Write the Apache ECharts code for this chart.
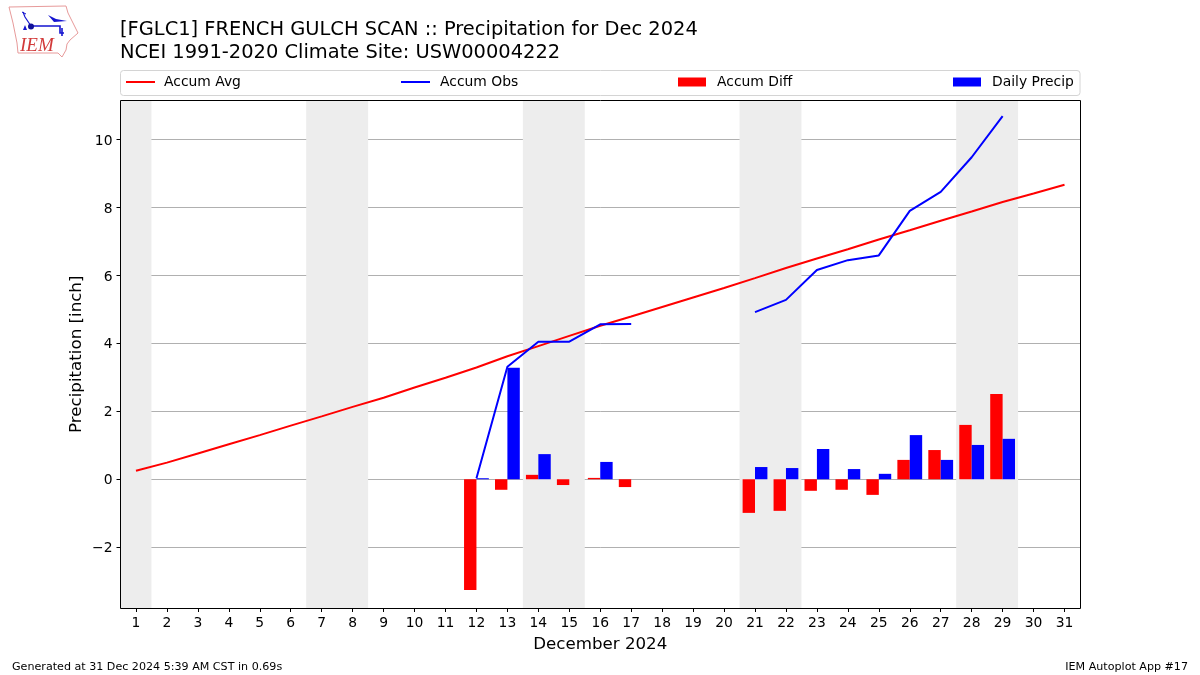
<!DOCTYPE html>
<html>
<head>
<meta charset="utf-8">
<style>html,body{margin:0;padding:0;background:#fff}#c{width:1200px;height:675px}</style>
<script src="https://cdn.jsdelivr.net/npm/echarts@6/dist/echarts.min.js"></script>
</head>
<body>
<div id="c"></div>
<script>
const days = ['1','2','3','4','5','6','7','8','9','10','11','12','13','14','15','16','17','18','19','20','21','22','23','24','25','26','27','28','29','30','31'];
const accumAvg = [0.25,0.49,0.76,1.03,1.30,1.58,1.85,2.13,2.40,2.70,2.99,3.29,3.62,3.92,4.22,4.52,4.79,5.07,5.35,5.63,5.92,6.22,6.50,6.77,7.06,7.33,7.61,7.88,8.16,8.41,8.67];
const accumObs = [null,null,null,null,null,null,null,null,null,null,null,0.03,3.31,4.05,4.05,4.56,4.57,null,null,null,4.92,5.28,6.16,6.45,6.59,7.90,8.46,9.48,10.69,null,null];
const accumDiff = [null,null,null,null,null,null,null,null,null,null,null,-3.26,-0.31,0.13,-0.17,0.04,-0.23,null,null,null,-0.99,-0.93,-0.34,-0.31,-0.46,0.57,0.86,1.60,2.51,null,null];
const dailyPrecip = [null,null,null,null,null,null,null,null,null,null,null,0.03,3.28,0.74,0,0.51,0,null,null,null,0.36,0.33,0.89,0.30,0.16,1.30,0.57,1.01,1.19,null,null];
const weekendBands = [[0.5,1.5],[6.5,8.5],[13.5,15.5],[20.5,22.5],[27.5,29.5]];
const yTicks = [-2,0,2,4,6,8,10];

const FONT = 'DejaVu Sans';
const BLUE = '#1515d0';
const chart = echarts.init(document.getElementById('c'), null, {renderer:'canvas'});
const legendItem = (left, width, height, gap, name) => ({
  top:75, left, icon:'rect', itemWidth:width, itemHeight:height, selectedMode:false, padding:0, itemGap:0, data:[name],
  textStyle:{fontFamily:FONT,fontSize:13.89,color:'#000',padding:[0,0,0,gap]}
});
const fmtY = v => '{t|' + String(v).replace('-', '\u2212') + '}';

chart.setOption({
  animation:false,
  backgroundColor:'#fff',
  title:[
    {text:'[FGLC1] FRENCH GULCH SCAN :: Precipitation for Dec 2024\nNCEI 1991-2020 Climate Site: USW00004222',left:120,top:18,padding:0,
     textStyle:{fontFamily:FONT,fontSize:19.44,fontWeight:'normal',color:'#000',lineHeight:23}},
    {text:'Generated at 31 Dec 2024 5:39 AM CST in 0.69s',left:12,top:662,padding:0,textStyle:{fontFamily:FONT,fontSize:11.11,fontWeight:'normal',color:'#000'}},
    {text:'IEM Autoplot App #17',right:12,top:662,padding:0,textStyle:{fontFamily:FONT,fontSize:11.11,fontWeight:'normal',color:'#000'}}
  ],
  legend:[
    legendItem(126,29,2,4,'Accum Avg'),
    legendItem(401,29,2,5,'Accum Obs'),
    legendItem(678,28,9,6,'Accum Diff'),
    legendItem(953,28,9,6,'Daily Precip')
  ],
  grid:{left:120.5,top:100.5,width:959.5,height:507.5,show:false},
  xAxis:[
    {type:'category',data:days,boundaryGap:true,name:'December 2024',nameLocation:'middle',nameGap:28,
     nameTextStyle:{fontFamily:FONT,fontSize:16.67,color:'#000'},
     axisLine:{show:false,onZero:false},
     axisTick:{show:true,alignWithLabel:true,length:4,lineStyle:{color:'#000',width:1}},
     axisLabel:{fontFamily:FONT,fontSize:13.89,color:'#000',margin:8,interval:0},
     splitLine:{show:false}},
    {type:'value',min:0.5,max:31.5,show:false,splitLine:{show:false}}
  ],
  yAxis:{type:'value',min:-3.79,max:11.15,name:'Precipitation [inch]',nameLocation:'middle',nameGap:35,nameMoveOverlap:false,
     nameTextStyle:{fontFamily:FONT,fontSize:16.67,color:'#000'},
     axisLine:{show:false,onZero:false},
     axisTick:{show:true,length:4,customValues:yTicks,lineStyle:{color:'#000',width:1}},
     axisLabel:{fontFamily:FONT,fontSize:13.89,color:'#000',margin:8,customValues:yTicks,formatter:fmtY,
       rich:{t:{fontFamily:FONT,fontSize:13.89,color:'#000',padding:[3,0,0,0]}}},
     splitLine:{show:true,lineStyle:{color:'#b0b0b0',width:1,type:'solid'}}},
  series:[
    {name:'Weekend',type:'line',xAxisIndex:1,yAxisIndex:0,data:[],z:-1,silent:true,
     markArea:{silent:true,itemStyle:{color:'#ededed',borderWidth:0},
       data:weekendBands.map(b=>[{xAxis:b[0],yAxis:-3.79},{xAxis:b[1],yAxis:11.15}])}},
    {name:'Accum Diff',type:'bar',data:accumDiff,barWidth:12.4,barGap:'0%',itemStyle:{color:'#ff0000'},z:3},
    {name:'Daily Precip',type:'bar',data:dailyPrecip,barWidth:12.4,barGap:'0%',itemStyle:{color:'#0000ff'},z:3},
    {name:'Accum Avg',type:'line',data:accumAvg,showSymbol:false,symbol:'none',lineStyle:{color:'#ff0000',width:2},itemStyle:{color:'#ff0000'},z:4},
    {name:'Accum Obs',type:'line',data:accumObs,connectNulls:false,showSymbol:false,symbol:'none',lineStyle:{color:'#0000ff',width:2},itemStyle:{color:'#0000ff'},z:5}
  ],
  graphic:[
    {type:'rect',shape:{x:120.5,y:70.5,width:959.5,height:25,r:3},style:{fill:'#fff',stroke:'#d4d4d4',lineWidth:1},z:-5},
    {type:'rect',shape:{x:120.5,y:100.5,width:960,height:508},style:{fill:'none',stroke:'#000',lineWidth:1},z:20},
    {type:'polyline',shape:{points:[[9,7],[66,6],[68,13],[74,25],[78,33],[70,40],[67,44],[66,50],[62,57],[58,53],[18,53],[17,43],[13,23],[9,7]]},style:{fill:'none',stroke:'#e79a9a',lineWidth:1}},
    {type:'polyline',shape:{points:[[31,26],[60,26],[60,33],[64,33]]},style:{fill:'none',stroke:BLUE,lineWidth:1.6}},
    {type:'polyline',shape:{points:[[23,12],[25,17],[31,26]]},style:{fill:'none',stroke:BLUE,lineWidth:1.2}},
    {type:'polyline',shape:{points:[[22,12],[26,14]]},style:{fill:'none',stroke:BLUE,lineWidth:1}},
    {type:'polygon',shape:{points:[[48,15],[56,19],[67,21],[54,22]]},style:{fill:BLUE}},
    {type:'polyline',shape:{points:[[62,28],[62,36]]},style:{fill:'none',stroke:BLUE,lineWidth:1.6}},
    {type:'circle',shape:{cx:31,cy:26.5,r:3},style:{fill:'#10109a'}},
    {type:'polygon',shape:{points:[[23,30],[25,25],[27,30]]},style:{fill:BLUE}},
    {type:'text',style:{x:20,y:36,text:'IEM',fill:'#d23a3a',font:'italic 19px "Liberation Serif"'}}
  ]
});
</script>
</body>
</html>
